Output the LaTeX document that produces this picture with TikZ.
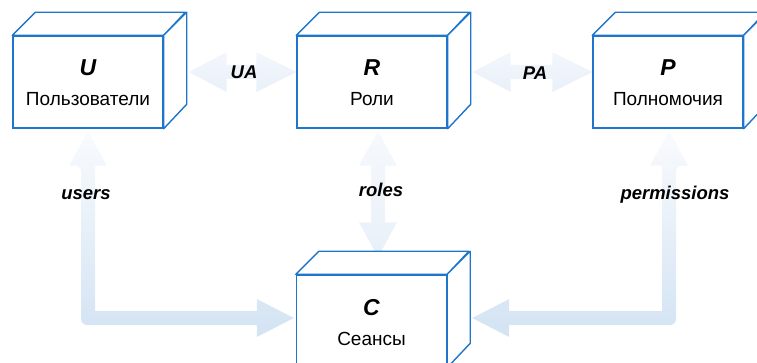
\documentclass[tikz,border=0pt]{standalone}
\usepackage{fontspec}
\setmainfont{Liberation Sans}
\usetikzlibrary{calc}
\definecolor{boxblue}{RGB}{30,118,202}
\definecolor{arrtop}{HTML}{F9FBFE}
\definecolor{arrmid}{HTML}{F1F6FB}
\definecolor{arrbot}{HTML}{D3E3F3}
\definecolor{harrtop}{HTML}{F3F7FC}
\definecolor{harrbot}{HTML}{E9F0F9}
\definecolor{varrtop}{HTML}{F6F9FD}
\definecolor{varrbot}{HTML}{E8F0F8}
\tikzset{
  cube/.style={draw=boxblue, line width=1.4pt, fill=white, minimum width=150pt, minimum height=92pt, inner sep=0pt},
  face/.style={draw=boxblue, line width=1.4pt, fill=white, line join=round},
  ttl/.style={font=\fontsize{23}{27}\selectfont\bfseries\itshape, anchor=base, inner sep=0pt},
  sub/.style={font=\fontsize{19}{23}\selectfont, anchor=base, inner sep=0pt},
  lbl/.style={font=\fontsize{18.5}{22}\selectfont\bfseries\itshape, anchor=base, inner sep=0pt},
  fatarrow/.style={top color=arrtop, middle color=arrmid, bottom color=arrbot, draw=none},
  hfatarrow/.style={top color=harrtop, bottom color=harrbot, draw=none},
  vfatarrow/.style={top color=varrtop, bottom color=varrbot, draw=none},
}
\newcommand\mycube[5]{%
  \node[cube] (#1) at (#2,#3) {};
  \draw[face] (#1.north west) -- ++(23,-23) -- ++(150,0) -- (#1.north east) -- cycle;
  \draw[face] (#1.north east) -- ++(23,-23) -- ++(0,92) -- (#1.south east) -- cycle;
  \node[ttl] (#1t) at ($(#1.center)+(0,-6)$) {#4};
  \node[sub] (#1s) at ($(#1.center)+(0,24)$) {#5};
}
\begin{document}
\begin{tikzpicture}[x=1pt,y=-1pt]
\useasboundingbox (0,0) rectangle (757,363);
\clip (0,0) rectangle (757,363);
% boxes as named nodes (front faces)
\node[cube, draw=none, fill=none] (U) at (88,82) {};
\node[cube, draw=none, fill=none] (R) at (372,82) {};
\node[cube, draw=none, fill=none] (P) at (668,82) {};
\node[cube, draw=none, fill=none] (C) at (371.5,321) {};
% connector end points
\coordinate (ua1) at ($(U.east)+(25,-10)$);
\coordinate (ua2) at ($(R.west)+(0,-10)$);
\coordinate (pa1) at ($(R.east)+(25,-10)$);
\coordinate (pa2) at ($(P.west)+(0,-10)$);
\coordinate (ro1) at ($(R.south)+(6,2)$);
\coordinate (ro2) at ($(C.north)+(6.5,-17)$);
\coordinate (us1) at ($(U.south)+(0,2)$);
\coordinate (usk) at ($(U.south |- C.west)+(0,-3)$);
\coordinate (us2) at ($(C.west)+(-2,-3)$);
\coordinate (pe1) at ($(P.south)+(1,2)$);
\coordinate (pek) at ($(pe1 |- C.east)+(0,-3)$);
\coordinate (pe2) at ($(C.east)+(25,-3)$);
% UA
\shade[hfatarrow] (ua1) -- ($(ua1)+(38,-20)$) -- ($(ua1)+(38,-7)$) -- ($(ua2)+(-40,-7)$) -- ($(ua2)+(-40,-20)$) -- (ua2)
  -- ($(ua2)+(-40,20)$) -- ($(ua2)+(-40,7)$) -- ($(ua1)+(38,7)$) -- ($(ua1)+(38,20)$) -- cycle;
% PA
\shade[hfatarrow] (pa1) -- ($(pa1)+(38,-20)$) -- ($(pa1)+(38,-7)$) -- ($(pa2)+(-40,-7)$) -- ($(pa2)+(-40,-20)$) -- (pa2)
  -- ($(pa2)+(-40,20)$) -- ($(pa2)+(-40,7)$) -- ($(pa1)+(38,7)$) -- ($(pa1)+(38,20)$) -- cycle;
% roles
\shade[vfatarrow] (ro1) -- ($(ro1)+(19,35)$) -- ($(ro1)+(7,35)$) -- ($(ro2)+(7,-35)$) -- ($(ro2)+(19,-35)$) -- (ro2)
  -- ($(ro2)+(-19,-35)$) -- ($(ro2)+(-7,-35)$) -- ($(ro1)+(-7,35)$) -- ($(ro1)+(-19,35)$) -- cycle;
% users
\shade[fatarrow] (us1) -- ($(us1)+(19,35)$) -- ($(us1)+(7,35)$) -- ($(usk)+(7,-7)$) -- ($(us2)+(-37,-7)$)
  -- ($(us2)+(-37,-19)$) -- (us2) -- ($(us2)+(-37,19)$) -- ($(us2)+(-37,7)$)
  [rounded corners=6pt] -- ($(usk)+(-7,7)$) -- ($(us1)+(-7,35)$) [sharp corners] -- ($(us1)+(-19,35)$) -- cycle;
% permissions
\shade[fatarrow] (pe1) -- ($(pe1)+(-19,35)$) -- ($(pe1)+(-7,35)$) -- ($(pek)+(-7,-7)$) -- ($(pe2)+(37,-7)$)
  -- ($(pe2)+(37,-19)$) -- (pe2) -- ($(pe2)+(37,19)$) -- ($(pe2)+(37,7)$)
  [rounded corners=6pt] -- ($(pek)+(7,7)$) -- ($(pe1)+(7,35)$) [sharp corners] -- ($(pe1)+(19,35)$) -- cycle;
% cubes
\mycube{U}{88}{82}{U}{Пользователи}
\mycube{R}{372}{82}{R}{Роли}
\mycube{P}{668}{82}{P}{Полномочия}
\mycube{C}{371.5}{321}{C}{Сеансы}
% labels
\node[lbl] (lua) at (244,79) {UA};
\node[lbl] (lpa) at (535,80) {PA};
\node[lbl] (lro) at (381,197) {roles};
\node[lbl] (lus) at (86,200) {users};
\node[lbl] (lpe) at (675,200) {permissions};
\end{tikzpicture}
\end{document}
